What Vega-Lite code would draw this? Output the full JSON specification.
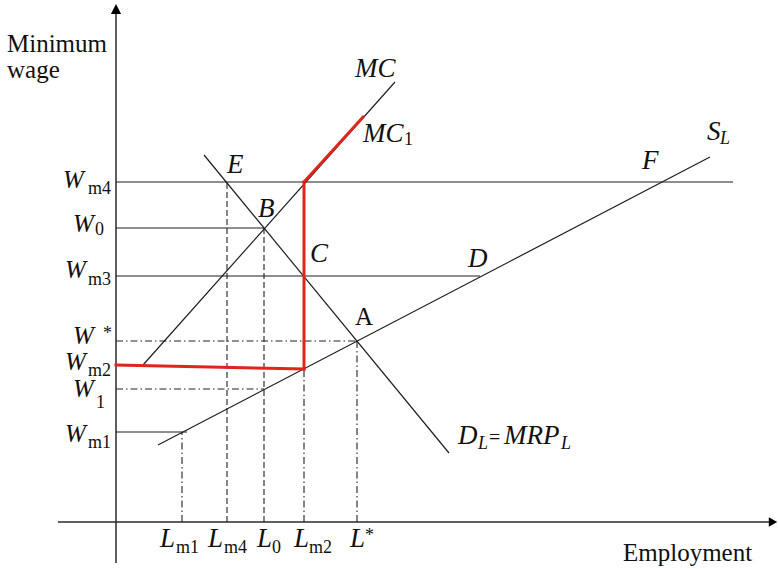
{
  "$schema": "https://vega.github.io/schema/vega-lite/v6.json",
  "width": 778,
  "height": 569,
  "autosize": {"type": "fit", "contains": "padding"},
  "padding": 0,
  "background": "white",
  "config": {"view": {"stroke": null}},
  "datasets": {
    "axes": [
      {"x1": -5.8, "y1": 0, "x2": 65.3, "y2": 0},
      {"x1": 0, "y1": -4.1, "x2": 0, "y2": 50.9}
    ],
    "upArrow": [{"x": 0, "y": 51.3}],
    "rightArrow": [{"x": 65.7, "y": 0}],
    "solid": [
      {"name": "Wm4", "x1": 0, "y1": 34.0, "x2": 61.7, "y2": 34.0},
      {"name": "W0", "x1": 0, "y1": 29.4, "x2": 14.8, "y2": 29.4},
      {"name": "Wm3", "x1": 0, "y1": 24.6, "x2": 36.4, "y2": 24.6},
      {"name": "Wm1", "x1": 0, "y1": 9.0, "x2": 7.1, "y2": 9.0},
      {"name": "MC", "x1": 2.7, "y1": 15.7, "x2": 27.9, "y2": 44.0},
      {"name": "DL", "x1": 8.8, "y1": 36.7, "x2": 33.3, "y2": 6.9},
      {"name": "SL", "x1": 4.2, "y1": 7.7, "x2": 59.4, "y2": 36.5}
    ],
    "red": [
      {"name": "Wm2", "x1": 0, "y1": 15.7, "x2": 18.8, "y2": 15.3},
      {"name": "Lm2 vertical", "x1": 18.8, "y1": 15.3, "x2": 18.8, "y2": 34.0},
      {"name": "MC1", "x1": 18.8, "y1": 34.0, "x2": 24.7, "y2": 40.5}
    ],
    "dashed": [
      {"name": "Lm4", "x1": 11.1, "y1": 0, "x2": 11.1, "y2": 34.0},
      {"name": "L0", "x1": 14.8, "y1": 0, "x2": 14.8, "y2": 29.4}
    ],
    "dashdot": [
      {"name": "Lm1", "x1": 6.6, "y1": 0, "x2": 6.6, "y2": 9.0},
      {"name": "Lm2", "x1": 18.8, "y1": 0, "x2": 18.8, "y2": 15.3},
      {"name": "Lstar", "x1": 24.1, "y1": 0, "x2": 24.1, "y2": 18.1},
      {"name": "Wstar", "x1": 0, "y1": 18.1, "x2": 24.1, "y2": 18.1},
      {"name": "W1", "x1": 0, "y1": 13.3, "x2": 14.8, "y2": 13.3}
    ],
    "italicMain": [
      {"t": "MC", "x": 23.9, "y": 44.5},
      {"t": "MC", "x": 24.7, "y": 38.0},
      {"t": "E", "x": 11.1, "y": 34.9},
      {"t": "B", "x": 14.2, "y": 30.5},
      {"t": "C", "x": 19.4, "y": 26.0},
      {"t": "D", "x": 35.2, "y": 25.5},
      {"t": "F", "x": 52.6, "y": 35.3},
      {"t": "S", "x": 59.1, "y": 38.2},
      {"t": "D", "x": 34.2, "y": 7.8},
      {"t": "MRP", "x": 38.8, "y": 7.8},
      {"t": "L", "x": 4.4, "y": -2.5},
      {"t": "L", "x": 9.2, "y": -2.5},
      {"t": "L", "x": 14.1, "y": -2.5},
      {"t": "L", "x": 17.8, "y": -2.5},
      {"t": "L", "x": 23.4, "y": -2.5}
    ],
    "wageLetters": [
      {"t": "W", "x": -5.3, "y": 33.4},
      {"t": "W", "x": -4.3, "y": 29.0},
      {"t": "W", "x": -5.1, "y": 24.4},
      {"t": "W", "x": -4.3, "y": 17.8},
      {"t": "W", "x": -5.1, "y": 15.2},
      {"t": "W", "x": -4.3, "y": 12.5},
      {"t": "W", "x": -5.1, "y": 8.0}
    ],
    "italicSub": [
      {"t": "L", "x": 60.4, "y": 37.8},
      {"t": "L", "x": 36.2, "y": 7.3},
      {"t": "L", "x": 44.5, "y": 7.3}
    ],
    "plainSub": [
      {"t": "1", "x": 28.8, "y": 37.7},
      {"t": "m4", "x": -2.8, "y": 32.8},
      {"t": "0", "x": -2.1, "y": 28.7},
      {"t": "m3", "x": -2.8, "y": 23.7},
      {"t": "*", "x": -1.3, "y": 18.3},
      {"t": "m2", "x": -2.8, "y": 14.6},
      {"t": "1", "x": -2.0, "y": 11.4},
      {"t": "m1", "x": -2.8, "y": 7.4},
      {"t": "m1", "x": 6.0, "y": -3.1},
      {"t": "m4", "x": 10.8, "y": -3.1},
      {"t": "0", "x": 15.6, "y": -3.1},
      {"t": "m2", "x": 19.3, "y": -3.1},
      {"t": "*", "x": 24.9, "y": -1.9}
    ],
    "plainMain": [
      {"t": "A", "x": 23.9, "y": 19.7},
      {"t": "Minimum", "x": -10.9, "y": 47.0},
      {"t": "wage", "x": -10.9, "y": 44.4},
      {"t": "Employment", "x": 50.7, "y": -3.9}
    ],
    "equals": [{"t": "=", "x": 37.3, "y": 7.8}]
  },
  "encoding": {
    "x": {"field": "x1", "type": "quantitative", "scale": {"domain": [-11.6, 66.2], "nice": false, "zero": false}, "axis": null},
    "y": {"field": "y1", "type": "quantitative", "scale": {"domain": [-4.7, 52.2], "nice": false, "zero": false}, "axis": null}
  },
  "layer": [
    {
      "data": {"name": "axes"},
      "mark": {"type": "rule", "color": "#2a2a2a", "strokeWidth": 1.5},
      "encoding": {"x2": {"field": "x2"}, "y2": {"field": "y2"}}
    },
    {
      "data": {"name": "dashed"},
      "mark": {"type": "rule", "color": "#222", "strokeWidth": 1.1, "strokeDash": [6, 3]},
      "encoding": {"x2": {"field": "x2"}, "y2": {"field": "y2"}}
    },
    {
      "data": {"name": "dashdot"},
      "mark": {"type": "rule", "color": "#222", "strokeWidth": 1.1, "strokeDash": [7, 3, 1.5, 3]},
      "encoding": {"x2": {"field": "x2"}, "y2": {"field": "y2"}}
    },
    {
      "data": {"name": "solid"},
      "mark": {"type": "rule", "color": "#1e1e1e", "strokeWidth": 1.2},
      "encoding": {"x2": {"field": "x2"}, "y2": {"field": "y2"}}
    },
    {
      "data": {"name": "red"},
      "mark": {"type": "rule", "color": "#e0251c", "strokeWidth": 3, "strokeCap": "square"},
      "encoding": {"x2": {"field": "x2"}, "y2": {"field": "y2"}}
    },
    {
      "data": {"name": "upArrow"},
      "mark": {"type": "point", "shape": "M0,-0.85L0.85,0.85L-0.85,0.85Z", "filled": true, "color": "black", "size": 144, "opacity": 1},
      "encoding": {"x": {"field": "x", "type": "quantitative"}, "y": {"field": "y", "type": "quantitative"}}
    },
    {
      "data": {"name": "rightArrow"},
      "mark": {"type": "point", "shape": "M0.7,0L-0.7,0.8L-0.7,-0.8Z", "filled": true, "color": "black", "size": 144, "opacity": 1},
      "encoding": {"x": {"field": "x", "type": "quantitative"}, "y": {"field": "y", "type": "quantitative"}}
    },
    {
      "data": {"name": "italicMain"},
      "mark": {"type": "text", "font": "Liberation Serif", "fontStyle": "italic", "fontSize": 27, "align": "left", "baseline": "alphabetic", "color": "#111"},
      "encoding": {"x": {"field": "x", "type": "quantitative"}, "y": {"field": "y", "type": "quantitative"}, "text": {"field": "t"}}
    },
    {
      "data": {"name": "wageLetters"},
      "mark": {"type": "text", "font": "Liberation Serif", "fontStyle": "italic", "fontSize": 25, "align": "left", "baseline": "alphabetic", "color": "#111"},
      "encoding": {"x": {"field": "x", "type": "quantitative"}, "y": {"field": "y", "type": "quantitative"}, "text": {"field": "t"}}
    },
    {
      "data": {"name": "italicSub"},
      "mark": {"type": "text", "font": "Liberation Serif", "fontStyle": "italic", "fontSize": 18, "align": "left", "baseline": "alphabetic", "color": "#111"},
      "encoding": {"x": {"field": "x", "type": "quantitative"}, "y": {"field": "y", "type": "quantitative"}, "text": {"field": "t"}}
    },
    {
      "data": {"name": "plainSub"},
      "mark": {"type": "text", "font": "Liberation Serif", "fontSize": 18, "align": "left", "baseline": "alphabetic", "color": "#111"},
      "encoding": {"x": {"field": "x", "type": "quantitative"}, "y": {"field": "y", "type": "quantitative"}, "text": {"field": "t"}}
    },
    {
      "data": {"name": "plainMain"},
      "mark": {"type": "text", "font": "Liberation Serif", "fontSize": 25, "align": "left", "baseline": "alphabetic", "color": "#111"},
      "encoding": {"x": {"field": "x", "type": "quantitative"}, "y": {"field": "y", "type": "quantitative"}, "text": {"field": "t"}}
    },
    {
      "data": {"name": "equals"},
      "mark": {"type": "text", "font": "Liberation Serif", "fontSize": 20, "align": "left", "baseline": "alphabetic", "color": "#111"},
      "encoding": {"x": {"field": "x", "type": "quantitative"}, "y": {"field": "y", "type": "quantitative"}, "text": {"field": "t"}}
    }
  ]
}
